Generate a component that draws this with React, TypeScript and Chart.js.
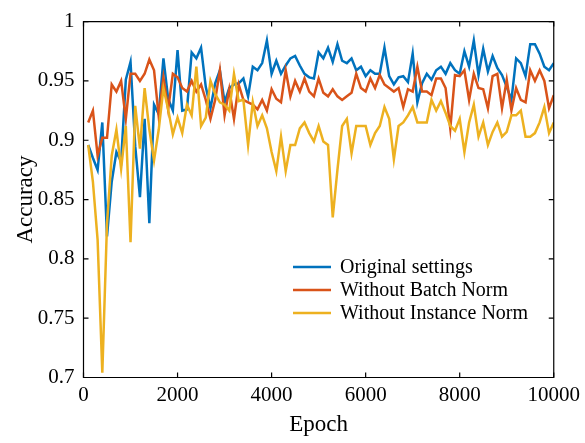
import React, { useEffect, useRef } from "react";
import { Chart, registerables } from "chart.js";

Chart.register(...registerables);

const epochs = [
  100, 200, 300, 400, 500, 600, 700, 800, 900, 1000,
  1100, 1200, 1300, 1400, 1500, 1600, 1700, 1800, 1900, 2000,
  2100, 2200, 2300, 2400, 2500, 2600, 2700, 2800, 2900, 3000,
  3100, 3200, 3300, 3400, 3500, 3600, 3700, 3800, 3900, 4000,
  4100, 4200, 4300, 4400, 4500, 4600, 4700, 4800, 4900, 5000,
  5100, 5200, 5300, 5400, 5500, 5600, 5700, 5800, 5900, 6000,
  6100, 6200, 6300, 6400, 6500, 6600, 6700, 6800, 6900, 7000,
  7100, 7200, 7300, 7400, 7500, 7600, 7700, 7800, 7900, 8000,
  8100, 8200, 8300, 8400, 8500, 8600, 8700, 8800, 8900, 9000,
  9100, 9200, 9300, 9400, 9500, 9600, 9700, 9800, 9900, 10000,
];

const originalSettings = [
  0.896, 0.885, 0.875, 0.915, 0.819, 0.865, 0.890, 0.882, 0.951, 0.966,
  0.895, 0.852, 0.918, 0.830, 0.930, 0.922, 0.969, 0.935, 0.925, 0.976,
  0.925, 0.926, 0.974, 0.969, 0.978, 0.945, 0.927, 0.948, 0.959, 0.932,
  0.944, 0.947, 0.948, 0.952, 0.937, 0.962, 0.959, 0.965, 0.984, 0.956,
  0.967, 0.956, 0.963, 0.969, 0.971, 0.963, 0.956, 0.953, 0.952, 0.974,
  0.969, 0.978, 0.966, 0.981, 0.967, 0.965, 0.969, 0.959, 0.962, 0.954,
  0.959, 0.956, 0.956, 0.978, 0.954, 0.947, 0.953, 0.954, 0.949, 0.973,
  0.932, 0.948, 0.956, 0.951, 0.959, 0.962, 0.956, 0.965, 0.959, 0.956,
  0.975, 0.962, 0.984, 0.955, 0.977, 0.958, 0.971, 0.961, 0.955, 0.945,
  0.934, 0.969, 0.965, 0.954, 0.981, 0.981, 0.973, 0.962, 0.959, 0.965,
];

const withoutBatchNorm = [
  0.915, 0.925, 0.887, 0.902, 0.902, 0.947, 0.941, 0.950, 0.918, 0.956,
  0.956, 0.950, 0.956, 0.968, 0.959, 0.920, 0.953, 0.926, 0.956, 0.953,
  0.944, 0.941, 0.950, 0.941, 0.947, 0.934, 0.918, 0.934, 0.959, 0.921,
  0.943, 0.918, 0.947, 0.934, 0.932, 0.930, 0.926, 0.934, 0.925, 0.943,
  0.935, 0.932, 0.959, 0.937, 0.950, 0.941, 0.952, 0.941, 0.937, 0.952,
  0.940, 0.937, 0.943, 0.937, 0.934, 0.937, 0.940, 0.956, 0.944, 0.941,
  0.952, 0.944, 0.955, 0.947, 0.944, 0.941, 0.944, 0.928, 0.943, 0.941,
  0.962, 0.941, 0.941, 0.938, 0.952, 0.952, 0.944, 0.910, 0.955, 0.954,
  0.959, 0.934, 0.956, 0.944, 0.943, 0.927, 0.954, 0.956, 0.927, 0.951,
  0.925, 0.944, 0.934, 0.932, 0.959, 0.950, 0.959, 0.950, 0.927, 0.938,
];

const withoutInstanceNorm = [
  0.896, 0.865, 0.816, 0.704, 0.830, 0.887, 0.909, 0.876, 0.912, 0.814,
  0.929, 0.893, 0.944, 0.909, 0.883, 0.909, 0.944, 0.926, 0.905, 0.919,
  0.906, 0.930, 0.921, 0.962, 0.912, 0.919, 0.950, 0.939, 0.932, 0.930,
  0.925, 0.956, 0.933, 0.934, 0.896, 0.932, 0.912, 0.921, 0.910, 0.890,
  0.874, 0.903, 0.874, 0.896, 0.896, 0.910, 0.915, 0.906, 0.899, 0.912,
  0.899, 0.896, 0.835, 0.875, 0.912, 0.918, 0.889, 0.912, 0.912, 0.912,
  0.896, 0.906, 0.912, 0.928, 0.918, 0.884, 0.912, 0.915, 0.921, 0.928,
  0.915, 0.915, 0.915, 0.934, 0.925, 0.933, 0.923, 0.912, 0.908, 0.918,
  0.890, 0.915, 0.930, 0.903, 0.915, 0.896, 0.907, 0.915, 0.903, 0.907,
  0.921, 0.921, 0.925, 0.903, 0.903, 0.906, 0.915, 0.928, 0.906, 0.915,
];

const seriesNames = ["Original settings", "Without Batch Norm", "Without Instance Norm"];
const seriesColors = ["#0072BD", "#D95319", "#EDB120"];
const xTicks = [0, 2000, 4000, 6000, 8000, 10000];
const yTicks = [0.7, 0.75, 0.8, 0.85, 0.9, 0.95, 1];

const FONT = "'Liberation Serif', 'Times New Roman', serif";

const framePlugin = {
  id: "frame",
  afterDatasetsDraw(chart: any) {
    const { ctx, chartArea } = chart;
    const { left, right, top, bottom } = chartArea;
    const xs = chart.scales.x;
    const ys = chart.scales.y;
    const tl = 5;
    ctx.save();
    ctx.strokeStyle = "#000";
    ctx.lineWidth = 1.2;
    ctx.beginPath();
    ctx.rect(left, top, right - left, bottom - top);
    ctx.stroke();
    ctx.beginPath();
    xTicks.forEach((v) => {
      const px = xs.getPixelForValue(v);
      ctx.moveTo(px, bottom);
      ctx.lineTo(px, bottom - tl);
      ctx.moveTo(px, top);
      ctx.lineTo(px, top + tl);
    });
    yTicks.forEach((v) => {
      const py = ys.getPixelForValue(v);
      ctx.moveTo(left, py);
      ctx.lineTo(left + tl, py);
      ctx.moveTo(right, py);
      ctx.lineTo(right - tl, py);
    });
    ctx.stroke();
    ctx.restore();
  },
};

const legendPlugin = {
  id: "insideLegend",
  afterDraw(chart: any) {
    const { ctx } = chart;
    const x0 = 293;
    const x1 = 331;
    const tx = 340;
    const y0 = 267;
    const dy = 23;
    ctx.save();
    ctx.font = `20px ${FONT}`;
    ctx.textBaseline = "middle";
    ctx.textAlign = "left";
    chart.data.datasets.forEach((ds: any, i: number) => {
      const y = y0 + i * dy;
      ctx.strokeStyle = ds.borderColor;
      ctx.lineWidth = 2.5;
      ctx.beginPath();
      ctx.moveTo(x0, y);
      ctx.lineTo(x1, y);
      ctx.stroke();
      ctx.fillStyle = "#000";
      ctx.fillText(ds.label, tx, y + 1);
    });
    ctx.restore();
  },
};

export default function App() {
  const canvasRef = useRef<HTMLCanvasElement | null>(null);

  useEffect(() => {
    const canvas = canvasRef.current;
    if (!canvas) return;
    const seriesValues = [originalSettings, withoutBatchNorm, withoutInstanceNorm];
    const chart = new Chart(canvas, {
      type: "line",
      data: {
        datasets: seriesValues.map((vals, i) => ({
          label: seriesNames[i],
          data: epochs.map((e, j) => ({ x: e, y: vals[j] })),
          borderColor: seriesColors[i],
          backgroundColor: seriesColors[i],
          borderWidth: 2.5,
          pointRadius: 0,
          tension: 0,
          fill: false,
          order: 3 - i,
        })),
      },
      options: {
        animation: false,
        responsive: false,
        devicePixelRatio: 1,
        layout: { padding: { left: 0, right: 28, top: 13.5, bottom: 0 } },
        plugins: {
          legend: { display: false },
          tooltip: { enabled: false },
        },
        scales: {
          x: {
            type: "linear",
            min: 0,
            max: 10000,
            afterBuildTicks: (scale: any) => {
              scale.ticks = xTicks.map((v) => ({ value: v }));
            },
            afterFit: (scale: any) => {
              scale.height = 65.5;
            },
            grid: { display: false, drawTicks: false },
            border: { display: false },
            ticks: {
              color: "#000",
              padding: 5,
              maxRotation: 0,
              autoSkip: false,
              font: { family: FONT, size: 21 },
              callback: (v: any) => String(v),
            },
            title: {
              display: true,
              text: "Epoch",
              color: "#000",
              font: { family: FONT, size: 23 },
              padding: { top: 0, bottom: 4 },
            },
          },
          y: {
            type: "linear",
            min: 0.7,
            max: 1,
            afterBuildTicks: (scale: any) => {
              scale.ticks = yTicks.map((v) => ({ value: v }));
            },
            afterFit: (scale: any) => {
              scale.width = 83.5;
            },
            grid: { display: false, drawTicks: false },
            border: { display: false },
            ticks: {
              color: "#000",
              padding: 9,
              autoSkip: false,
              font: { family: FONT, size: 21 },
              callback: (v: any) => String(Number(Number(v).toFixed(2))),
            },
            title: {
              display: true,
              text: "Accuracy",
              color: "#000",
              font: { family: FONT, size: 23 },
              padding: { top: 12, bottom: 0 },
            },
          },
        },
      },
      plugins: [framePlugin, legendPlugin],
    });
    return () => chart.destroy();
  }, []);

  return (
    <div style={{ position: "absolute", left: 0, top: 0, width: 585, height: 443, background: "#fff" }}>
      <canvas ref={canvasRef} width={585} height={443} style={{ width: 585, height: 443, display: "block" }} />
    </div>
  );
}
